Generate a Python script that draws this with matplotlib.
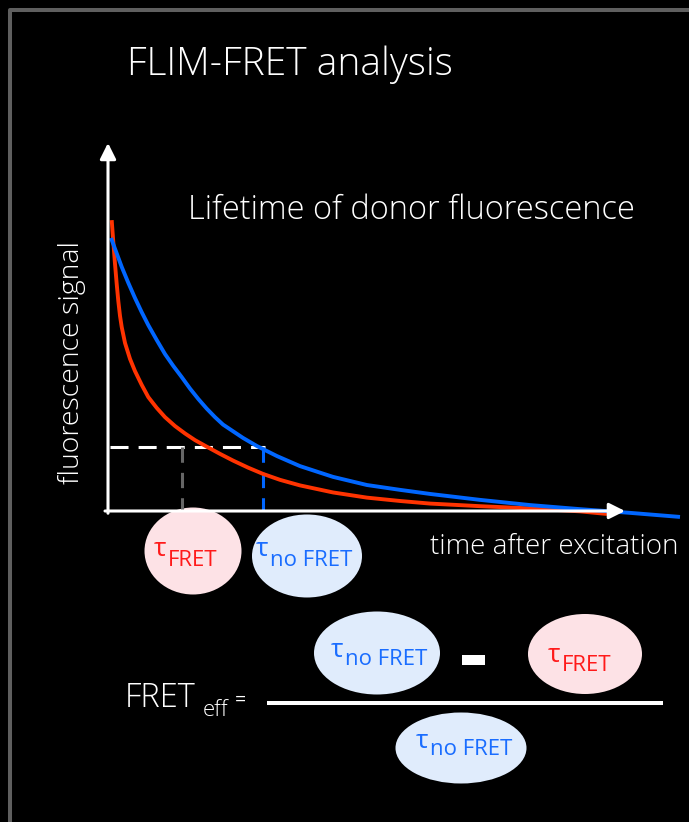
# FLIM-FRET: decaimento da fluorescência do doador, com e sem FRET
import matplotlib
matplotlib.use("Agg")
import matplotlib.pyplot as plt
from matplotlib.patches import Ellipse, Rectangle

# ------------------------------------------------------------
# Dados (tempo em ns, sinal normalizado)
# ------------------------------------------------------------
t_fret = [0.074, 0.106, 0.140, 0.174, 0.206, 0.240, 0.274, 0.340, 0.440, 0.540,
          0.674, 0.806, 0.974, 1.140, 1.340, 1.540, 1.740, 1.980, 2.240, 2.500,
          2.800, 3.100, 3.440, 3.840, 4.500, 5.180, 5.840, 6.440, 7.440, 8.440,
          9.440, 9.980]
sinal_fret = [0.784, 0.725, 0.666, 0.612, 0.566, 0.526, 0.496, 0.453, 0.410, 0.377,
              0.340, 0.307, 0.278, 0.253, 0.229, 0.209, 0.191, 0.173, 0.154, 0.136,
              0.117, 0.100, 0.084, 0.069, 0.050, 0.036, 0.027, 0.020, 0.013, 0.007,
              -0.001, -0.008]

t_nofret = [0.060, 0.274, 0.406, 0.540, 0.674, 0.806, 0.974, 1.140, 1.306, 1.474,
            1.640, 1.806, 1.974, 2.140, 2.300, 2.700, 2.980, 3.380, 3.840, 4.500,
            5.180, 5.840, 6.440, 7.440, 8.440, 9.440, 10.440, 11.440]
sinal_nofret = [0.736, 0.658, 0.615, 0.574, 0.536, 0.501, 0.461, 0.423, 0.391, 0.361,
                0.330, 0.302, 0.276, 0.253, 0.233, 0.197, 0.175, 0.148, 0.121, 0.092,
                0.070, 0.057, 0.046, 0.030, 0.016, 0.005, -0.005, -0.016]

tau_fret = 1.48      # tempo de vida com FRET
tau_nofret = 3.10    # tempo de vida sem FRET
nivel_tau = 0.173    # nível do sinal usado para ler os tempos de vida

titulo = "FLIM-FRET analysis"
subtitulo = "Lifetime of donor fluorescence"
rotulo_y = "fluorescence signal"
rotulo_x = "time after excitation"

# cores
VERMELHO = "#ff3300"
AZUL = "#0066ff"
TXT_VERM = "#ff1a1a"
TXT_AZUL = "#1a6dff"
ROSA = "#fde2e6"
AZUL_CLARO = "#e0ecfc"
CINZA = "#666666"

FONTE = ["Open Sans", "DejaVu Sans"]
FONTE_TAU = ["Open Sans", "DejaVu Sans"]
PESO = "light"

fig = plt.figure(figsize=(6.89, 8.22), dpi=100, facecolor="black")

# eixo de fundo em pixels (para moldura, textos e fórmula)
bg = fig.add_axes([0, 0, 1, 1], zorder=0)
bg.set_xlim(0, 689)
bg.set_ylim(822, 0)
bg.axis("off")
bg.set_facecolor("black")

# moldura cinza
bg.plot([9.5, 9.5, 689], [822, 10, 10], color="#5f5f5f", lw=2.9,
        solid_capstyle="butt")

bg.text(127, 75, titulo, color="white", fontsize=28, family=FONTE,
        fontweight=PESO, va="baseline", ha="left")
bg.text(188, 219, subtitulo, color="white", fontsize=23.5, family=FONTE,
        fontweight=PESO, va="baseline", ha="left")
bg.text(72, 362, rotulo_y, color="white", fontsize=20.5, family=FONTE,
        fontweight=PESO, rotation=90, va="center", ha="center")
bg.text(430, 554, rotulo_x, color="white", fontsize=20, family=FONTE,
        fontweight=PESO, va="baseline", ha="left")


def rotulo_tau(cx, cy, w, h, cor_fundo, cor_txt, sub, x_tau, y_tau, y_sub, tam_tau=19, tam_sub=16):
    bg.add_patch(Ellipse((cx, cy), w, h, facecolor=cor_fundo, edgecolor="none"))
    bg.text(x_tau, y_tau, "τ", color=cor_txt, fontsize=tam_tau, family=FONTE_TAU,
            va="baseline", ha="left")
    bg.text(x_tau + 14, y_sub, sub, color=cor_txt, fontsize=tam_sub, family=FONTE_TAU,
            va="baseline", ha="left")


# elipses abaixo do gráfico
rotulo_tau(193, 551, 97, 87, ROSA, TXT_VERM, "FRET", 154, 556, 566)
rotulo_tau(307, 556, 110, 83, AZUL_CLARO, TXT_AZUL, "no FRET", 256, 556, 566)

# fórmula da eficiência
bg.text(125, 707, "FRET", color="white", fontsize=23.5, family=FONTE,
        fontweight=PESO, va="baseline", ha="left")
bg.text(203, 716, "eff", color="white", fontsize=16, family=FONTE,
        fontweight=PESO, va="baseline", ha="left")
bg.text(235, 705, "=", color="white", fontsize=14, family=FONTE,
        va="baseline", ha="left")
bg.plot([267, 663], [703, 703], color="white", lw=2.9, solid_capstyle="butt")
bg.add_patch(Rectangle((462, 655), 23, 10, facecolor="white", edgecolor="none"))

rotulo_tau(377, 653, 126, 83, AZUL_CLARO, TXT_AZUL, "no FRET", 331, 657, 665)
rotulo_tau(585, 654, 114, 80, ROSA, TXT_VERM, "FRET", 548, 662, 671)
rotulo_tau(461, 748, 131, 71, AZUL_CLARO, TXT_AZUL, "no FRET", 416, 748, 755)

# ------------------------------------------------------------
# Gráfico do decaimento
# ------------------------------------------------------------
ax = fig.add_axes([108 / 689, (822 - 511) / 822, 581 / 689, 371 / 822], zorder=2)
ax.set_xlim(0, 11.62)
ax.set_ylim(0, 1)
ax.axis("off")
ax.patch.set_alpha(0)

# eixos com setas
seta = dict(arrowstyle="-|>", color="white", lw=2.2, mutation_scale=24,
            shrinkA=0, shrinkB=0)
ax.annotate("", xy=(0, 0.992), xytext=(0, -0.006), arrowprops=seta,
            annotation_clip=False)
ax.annotate("", xy=(10.34, 0), xytext=(-0.06, 0), arrowprops=seta,
            annotation_clip=False)

# linhas tracejadas dos tempos de vida
ax.plot([0.04, tau_nofret + 0.04], [nivel_tau, nivel_tau], color="white",
        lw=2.2, linestyle=(0, (5.9, 3.3)))
ax.plot([tau_fret, tau_fret], [nivel_tau, 0], color=CINZA, lw=2.2,
        linestyle=(0, (5.0, 3.3)))
ax.plot([tau_nofret, tau_nofret], [nivel_tau, 0], color=AZUL, lw=2.2,
        linestyle=(0, (5.0, 3.3)))

# curvas
ax.plot(t_fret, sinal_fret, color=VERMELHO, lw=2.8, clip_on=False,
        solid_capstyle="butt", solid_joinstyle="round")
ax.plot(t_nofret, sinal_nofret, color=AZUL, lw=2.8, clip_on=False,
        solid_capstyle="butt", solid_joinstyle="round")

plt.savefig("out.png", dpi=100, facecolor="black")
